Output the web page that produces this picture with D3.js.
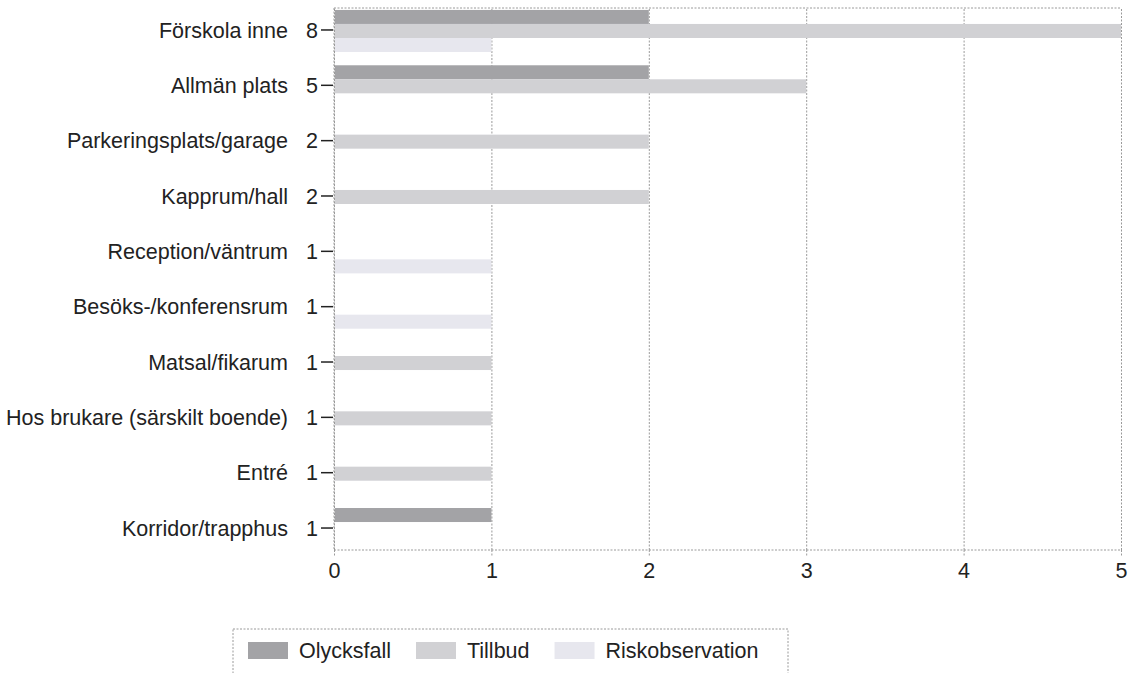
<!DOCTYPE html>
<html>
<head>
<meta charset="utf-8">
<script src="https://cdn.jsdelivr.net/npm/d3@7"></script>
<style>
  html, body { margin: 0; padding: 0; background: #fff; }
  svg { display: block; font-family: "Liberation Sans", Arial, sans-serif; }
</style>
</head>
<body>
<svg id="chart" width="1138" height="673"></svg>
<script>
const categories = ["Förskola inne", "Allmän plats", "Parkeringsplats/garage", "Kapprum/hall",
  "Reception/väntrum", "Besöks-/konferensrum", "Matsal/fikarum",
  "Hos brukare (särskilt boende)", "Entré", "Korridor/trapphus"];
const seriesNames = ["Olycksfall", "Tillbud", "Riskobservation"];
const olycksfall      = [2, 2, 0, 0, 0, 0, 0, 0, 0, 1];
const tillbud         = [5, 3, 2, 2, 0, 0, 1, 1, 1, 0];
const riskobservation = [1, 0, 0, 0, 1, 1, 0, 0, 0, 0];
const xTicks = [0, 1, 2, 3, 4, 5];
const colors = ["#a3a3a6", "#d1d1d4", "#e7e7ee"];

const seriesValues = [olycksfall, tillbud, riskobservation];
const totals = categories.map((c, i) => d3.sum(seriesValues, s => s[i]));

const svg = d3.select("#chart");
const fontSize = 21.5;
const plot = { left: 334, right: 1121, top: 8, bottom: 550 };

const x = d3.scaleLinear().domain([0, 5]).range([plot.left, plot.right]);
const y = d3.scaleBand().domain(categories).range([3.3, 556.7]).paddingInner(0.24).paddingOuter(0.12);
const ySub = d3.scaleBand().domain(seriesNames).range([0, y.bandwidth()]);

const gridStyle = g => g.attr("stroke", "#9a9a9a").attr("stroke-width", 1).attr("stroke-dasharray", "2,1.5");
svg.append("line").attr("x1", plot.left).attr("x2", plot.right).attr("y1", plot.top).attr("y2", plot.top).call(gridStyle);

// vertical gridlines via axis
const xAxis = d3.axisBottom(x).tickValues(xTicks).tickSize(-(plot.bottom - plot.top)).tickFormat("");
svg.append("g").attr("transform", `translate(0,${plot.bottom})`).call(xAxis)
  .call(g => g.select(".domain").remove())
  .call(g => g.selectAll(".tick line").call(gridStyle));

// bottom axis with labels
const xAxis2 = d3.axisBottom(x).tickValues(xTicks).tickSize(7).tickPadding(6).tickFormat(d3.format("d"));
svg.append("g").attr("transform", `translate(0,${plot.bottom})`).call(xAxis2)
  .call(g => g.select(".domain").attr("stroke", "#9a9a9a").attr("stroke-dasharray", "2,1.5").attr("d", `M${plot.left},0H${plot.right}`))
  .call(g => g.selectAll(".tick line").call(gridStyle))
  .call(g => g.selectAll(".tick text").attr("font-size", fontSize).attr("fill", "#222")
      .attr("font-family", "'Liberation Sans', Arial, sans-serif"));

svg.append("line").attr("x1", plot.left).attr("x2", plot.left).attr("y1", plot.top).attr("y2", plot.bottom).call(gridStyle);

// bars
const rows = svg.append("g").selectAll("g").data(categories).join("g")
  .attr("transform", d => `translate(0,${y(d)})`);
rows.selectAll("rect")
  .data((c, i) => seriesNames.map((s, k) => ({ s, k, v: seriesValues[k][i] })).filter(d => d.v > 0))
  .join("rect")
  .attr("x", x(0) + 1)
  .attr("y", d => ySub(d.s))
  .attr("width", d => x(d.v) - x(0) - 1)
  .attr("height", ySub.bandwidth())
  .attr("fill", d => colors[d.k]);

// category labels, totals, ticks
const centerY = c => y(c) + y.bandwidth() / 2 - 1;
const labels = svg.append("g").selectAll("g").data(categories).join("g")
  .attr("transform", c => `translate(0,${centerY(c)})`);
labels.append("text").attr("x", 288).attr("dy", "0.35em").attr("text-anchor", "end")
  .attr("font-size", fontSize).attr("fill", "#222").text(c => c);
labels.append("text").attr("x", 318).attr("dy", "0.35em").attr("text-anchor", "end")
  .attr("font-size", fontSize).attr("fill", "#222").text((c, i) => totals[i]);
labels.append("line").attr("x1", 321).attr("x2", 333).attr("stroke", "#222").attr("stroke-width", 1.5);

// legend
const legend = svg.append("g");
legend.append("rect").attr("x", 233).attr("y", 629).attr("width", 555).attr("height", 50)
  .attr("fill", "none").call(gridStyle);
let lx = 248;
seriesNames.forEach((s, k) => {
  legend.append("rect").attr("x", lx).attr("y", 642).attr("width", 40).attr("height", 17).attr("fill", colors[k]);
  const t = legend.append("text").attr("x", lx + 51).attr("y", 650.5).attr("dy", "0.35em")
    .attr("font-size", fontSize).attr("fill", "#222").text(s);
  lx = lx + 51 + t.node().getComputedTextLength() + 25;
});
</script>
</body>
</html>
